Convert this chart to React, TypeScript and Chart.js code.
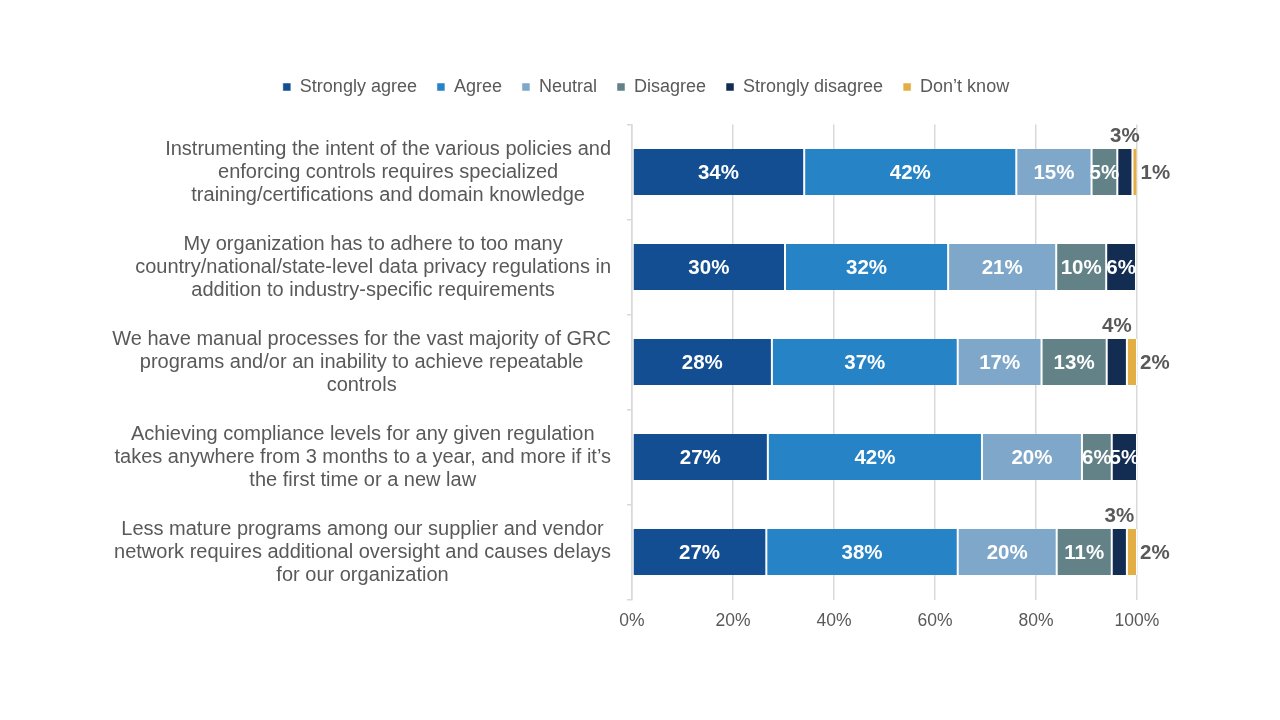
import React, { useEffect, useRef } from 'react';
import { Chart, registerables } from 'chart.js';

Chart.register(...registerables);

const categories: string[][] = [
  ['Instrumenting the intent of the various policies and', 'enforcing controls requires specialized', 'training/certifications and domain knowledge'],
  ['My organization has to adhere to too many', 'country/national/state-level data privacy regulations in', 'addition to industry-specific requirements'],
  ['We have manual processes for the vast majority of GRC', 'programs and/or an inability to achieve repeatable', 'controls'],
  ['Achieving compliance levels for any given regulation', 'takes anywhere from 3 months to a year, and more if it\u2019s', 'the first time or a new law'],
  ['Less mature programs among our supplier and vendor', 'network requires additional oversight and causes delays', 'for our organization'],
];

const seriesNames = ['Strongly agree', 'Agree', 'Neutral', 'Disagree', 'Strongly disagree', 'Don\u2019t know'];
const stronglyAgree = [34.1, 30.3, 27.7, 26.9, 26.6];
const agree = [42.0, 32.3, 36.8, 42.4, 37.9];
const neutral = [14.9, 21.4, 16.6, 19.8, 19.6];
const disagree = [5.1, 9.9, 12.9, 5.9, 10.9];
const stronglyDisagree = [3.0, 5.9, 4.0, 5.0, 3.0];
const dontKnow = [1.0, 0, 2.0, 0, 2.0];
const seriesColors = ['#124e91', '#2683c6', '#7fa7c9', '#628287', '#132c52', '#e3ae44'];
const xTickValues = [0, 20, 40, 60, 80, 100];

const FONT = "'Liberation Sans', Arial, sans-serif";
const GRAY = '#595959';
const GRID = '#d9d9d9';

const legendSpacer = {
  id: 'legendSpacer',
  beforeInit(chart: any) {
    const legend = chart.legend;
    if (!legend) return;
    const orig = legend.fit;
    legend.fit = function () {
      orig.call(this);
      this.height = 66.5;
    };
  },
};

const categoryLabels = {
  id: 'categoryLabels',
  afterDraw(chart: any) {
    const ctx = chart.ctx;
    const yScale = chart.scales.y;
    const rightEdge = chart.chartArea.left - 21;
    const lineH = 23;
    ctx.save();
    ctx.font = `20px ${FONT}`;
    ctx.fillStyle = GRAY;
    ctx.textAlign = 'center';
    ctx.textBaseline = 'middle';
    categories.forEach((lines, i) => {
      const cy = yScale.getPixelForValue(i);
      const widest = Math.max(...lines.map((l) => ctx.measureText(l).width));
      const cx = rightEdge - widest / 2;
      lines.forEach((line, j) => {
        ctx.fillText(line, cx, cy + (j - (lines.length - 1) / 2) * lineH);
      });
    });
    ctx.restore();
  },
};

const valueLabels = {
  id: 'valueLabels',
  afterDatasetsDraw(chart: any) {
    const ctx = chart.ctx;
    ctx.save();
    ctx.font = `bold 20.5px ${FONT}`;
    ctx.textBaseline = 'middle';
    chart.data.datasets.forEach((ds: any, di: number) => {
      const meta = chart.getDatasetMeta(di);
      meta.data.forEach((bar: any, i: number) => {
        const v = ds.data[i] as number;
        if (!v) return;
        const r = Math.round(v);
        const text = `${r}%`;
        const props = bar.getProps(['x', 'y', 'base', 'height'], true);
        const left = Math.min(props.x, props.base);
        const right = Math.max(props.x, props.base);
        const cx = (left + right) / 2;
        if (di === 5) {
          ctx.fillStyle = GRAY;
          ctx.textAlign = 'left';
          ctx.fillText(text, right + 3, props.y + 1);
        } else if (di === 4 && r < 5) {
          ctx.fillStyle = GRAY;
          ctx.textAlign = 'center';
          ctx.fillText(text, cx, props.y - props.height / 2 - 13);
        } else {
          ctx.fillStyle = '#ffffff';
          ctx.textAlign = 'center';
          ctx.fillText(text, cx, props.y + 1);
        }
      });
    });
    ctx.restore();
  },
};

export default function App() {
  const canvasRef = useRef<HTMLCanvasElement | null>(null);

  useEffect(() => {
    document.body.style.margin = '0';
    const canvas = canvasRef.current;
    if (!canvas) return;
    Chart.defaults.font.family = FONT;
    const allSeries = [stronglyAgree, agree, neutral, disagree, stronglyDisagree, dontKnow];
    const chart = new Chart(canvas, {
      type: 'bar',
      data: {
        labels: categories.map((c) => c.join(' ')),
        datasets: seriesNames.map((name, k) => ({
          label: name,
          data: allSeries[k],
          backgroundColor: seriesColors[k],
          borderColor: '#ffffff',
          borderWidth: { left: 1, right: 1, top: 0, bottom: 0 },
          borderSkipped: false,
          categoryPercentage: 1,
          barPercentage: 0.485,
        })),
      },
      options: {
        indexAxis: 'y',
        responsive: false,
        animation: false,
        layout: { padding: { top: 58, right: 143, left: 155, bottom: 90.5 } },
        plugins: {
          legend: {
            position: 'top',
            labels: {
              usePointStyle: true,
              pointStyle: 'rect',
              boxWidth: 8,
              boxHeight: 8,
              padding: 20,
              color: GRAY,
              font: { size: 18, family: FONT },
            },
          },
          tooltip: { enabled: false },
        },
        scales: {
          x: {
            stacked: true,
            min: 0,
            max: 100,
            afterBuildTicks: (scale: any) => {
              scale.ticks = xTickValues.map((v) => ({ value: v }));
            },
            afterFit: (scale: any) => {
              scale.height = 30;
            },
            ticks: {
              color: GRAY,
              padding: 11,
              font: { size: 17.5, family: FONT },
              callback: (v: any) => `${v}%`,
            },
            grid: { color: GRID, lineWidth: 1.5, drawTicks: false },
            border: { display: false },
          },
          y: {
            stacked: true,
            afterFit: (scale: any) => {
              scale.width = 477;
            },
            ticks: { display: false },
            grid: { offset: true, drawOnChartArea: false, color: GRID, lineWidth: 1.5, tickLength: 5 },
            border: { display: true, color: GRID, width: 1.5 },
          },
        },
      },
      plugins: [legendSpacer, categoryLabels, valueLabels],
    } as any);
    return () => chart.destroy();
  }, []);

  return (
    <div style={{ position: 'fixed', left: 0, top: 0, width: 1280, height: 720, background: '#ffffff' }}>
      <canvas ref={canvasRef} width={1280} height={720} style={{ display: 'block' }} />
    </div>
  );
}
